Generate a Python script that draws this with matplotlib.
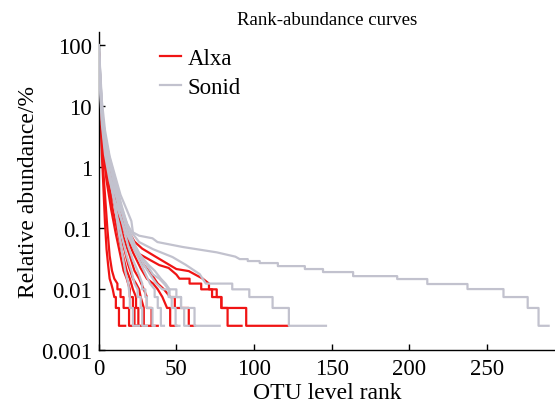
import matplotlib
matplotlib.use("Agg")
import matplotlib.pyplot as plt

# rank-abundance curves, (rank, relative abundance %) vertices
# Alxa samples
alxa_ranks = [
    [0, 1, 2, 3, 4, 5, 6, 7, 8, 9, 10, 11, 11, 13, 13, 17],
    [0, 1, 2.5, 4, 5.5, 7, 8.5, 10, 12, 12, 14, 14, 16, 16, 19.5, 19.5, 24],
    [0, 1, 2, 3, 5, 8, 11, 14, 16, 18, 20, 20, 22, 22, 23, 23, 26],
    [0, 1, 2, 4, 6, 9, 12, 15, 18, 20, 22, 24, 24, 25.5, 25.5, 29],
    [0, 1, 2, 4, 7, 10, 13, 16, 19, 22, 24, 26, 27, 29, 29, 33],
    [0, 1, 2, 4, 7, 10, 13, 16, 20, 23, 26, 29, 31, 31, 34, 34, 38],
    [0, 1, 2, 4, 7, 10, 14, 18, 22, 27, 31, 35, 38, 41, 44, 46, 46, 50],
    [0, 1, 2, 4, 7, 11, 15, 19, 24, 29, 34, 38, 42, 46, 49, 49, 58, 58, 62],
    [0, 1, 2, 4, 7, 10, 14, 18, 22, 26.2, 33, 39, 45, 50, 52, 58.5, 58.5, 66, 66,
     73, 73, 79, 79, 83, 83, 92],
    [0, 1, 2, 4, 7, 10, 14, 18, 23, 28, 37, 50, 58, 67, 71, 71, 76, 76, 79, 79,
     95, 95, 122],
]
alxa_values = [
    [80, 12, 1.6, 0.45, 0.12, 0.045, 0.025, 0.0148, 0.0123, 0.0099, 0.0074, 0.0074,
     0.0049, 0.0049, 0.0025, 0.0025],
    [60, 9, 1.2, 0.35, 0.1, 0.035, 0.02, 0.0148, 0.0123, 0.0099, 0.0099, 0.0074,
     0.0074, 0.0049, 0.0049, 0.0025, 0.0025],
    [90, 15, 4, 1.6, 0.6, 0.2, 0.08, 0.035, 0.02, 0.0148, 0.0099, 0.0074, 0.0074,
     0.0049, 0.0049, 0.0025, 0.0025],
    [70, 18, 5, 1.5, 0.6, 0.2, 0.09, 0.04, 0.02, 0.0148, 0.0099, 0.0074, 0.0049,
     0.0049, 0.0025, 0.0025],
    [85, 20, 6, 1.8, 0.6, 0.25, 0.11, 0.05, 0.025, 0.0148, 0.0123, 0.0099, 0.0074,
     0.0049, 0.0025, 0.0025],
    [60, 15, 5, 2, 0.7, 0.3, 0.13, 0.07, 0.035, 0.02, 0.0148, 0.0099, 0.0074,
     0.0049, 0.0049, 0.0025, 0.0025],
    [75, 22, 7, 2.2, 0.8, 0.35, 0.14, 0.07, 0.04, 0.022, 0.0148, 0.0123, 0.0099,
     0.0074, 0.0049, 0.0049, 0.0025, 0.0025],
    [65, 18, 6, 2, 0.8, 0.3, 0.13, 0.07, 0.04, 0.025, 0.0173, 0.0123, 0.0099,
     0.0074, 0.0074, 0.0049, 0.0049, 0.0025, 0.0025],
    [80, 25, 6, 1.5, 0.5, 0.25, 0.12, 0.07, 0.05, 0.0375, 0.03, 0.0247, 0.0222,
     0.0173, 0.0148, 0.0148, 0.0123, 0.0123, 0.0099, 0.0099, 0.0074, 0.0074,
     0.0049, 0.0049, 0.0025, 0.0025],
    [70, 20, 6, 2, 0.8, 0.4, 0.18, 0.1, 0.06, 0.046, 0.0335, 0.0213, 0.0197,
     0.0148, 0.0123, 0.0099, 0.0099, 0.0074, 0.0074, 0.0049, 0.0049, 0.0025,
     0.0025],
]

# Sonid samples
sonid_ranks = [
    [0, 1, 2, 4, 7, 10, 14, 18, 21, 22, 26, 34.6, 37.8, 54, 76, 88, 90.8, 96, 96,
     103.7, 103.7, 115.4, 115.4, 132.8, 132.8, 144.5, 144.5, 163.9, 163.9, 192.3,
     192.3, 211.7, 211.7, 237.6, 237.6, 260.8, 260.8, 276.4, 276.4, 283.4, 283.4,
     289.9],
    [0, 1, 2, 4, 7, 10, 14, 18, 22, 26, 35, 47.5, 56, 65, 69, 86, 86, 97, 97, 112,
     112, 122.5, 122.5, 146.4],
    [0, 1, 2, 4, 7, 10, 14, 18, 22, 27, 32, 36, 40, 43, 45.6, 45.6, 53, 53, 61.7,
     61.7, 77.9],
    [0, 1, 2, 4, 6, 9, 12, 15, 18, 21, 23, 25, 25, 27, 27, 28, 28, 31],
    [0, 1, 2, 4, 7, 10, 13, 16, 19, 22, 25, 28, 28, 30, 30, 31, 31, 34.6, 34.6, 36],
    [0, 1, 2, 4, 7, 10, 13, 16, 19, 22, 26, 30, 33, 36, 36, 38, 38, 40, 40, 42],
    [0, 1, 2, 4, 7, 10, 14, 18, 21, 25, 29, 33, 37, 41, 45, 45, 47, 47, 49.5, 49.5,
     52],
    [0, 1, 2, 3, 5, 8, 11, 13, 15, 17, 19, 20, 20, 22, 22, 26],
    [0, 1, 2, 4, 7, 11, 15, 19, 23, 27, 31, 35, 39, 42, 45, 50, 50, 53, 53, 55, 55,
     58],
]
sonid_values = [
    [100, 35, 12, 4, 1.5, 0.8, 0.35, 0.2, 0.13, 0.085, 0.075, 0.068, 0.059, 0.049,
     0.040, 0.034, 0.031, 0.031, 0.0288, 0.0288, 0.0267, 0.0267, 0.0238, 0.0238,
     0.0213, 0.0213, 0.019, 0.019, 0.0163, 0.0163, 0.0146, 0.0146, 0.0121, 0.0121,
     0.01, 0.01, 0.0074, 0.0074, 0.0049, 0.0049, 0.0025, 0.0025],
    [70, 20, 6, 2, 0.8, 0.4, 0.2, 0.12, 0.08, 0.059, 0.045, 0.0335, 0.025, 0.0176,
     0.0123, 0.0123, 0.0099, 0.0099, 0.0074, 0.0074, 0.0049, 0.0049, 0.0025,
     0.0025],
    [50, 15, 5, 1.6, 0.6, 0.3, 0.15, 0.08, 0.05, 0.035, 0.025, 0.02, 0.0148,
     0.0123, 0.0099, 0.0074, 0.0074, 0.0049, 0.0049, 0.0025, 0.0025],
    [100, 30, 9, 2.5, 1, 0.4, 0.15, 0.07, 0.035, 0.02, 0.0123, 0.0099, 0.0074,
     0.0074, 0.0049, 0.0049, 0.0025, 0.0025],
    [80, 25, 8, 3, 1.1, 0.5, 0.2, 0.1, 0.05, 0.03, 0.02, 0.0123, 0.0099, 0.0099,
     0.0074, 0.0074, 0.0049, 0.0049, 0.0025, 0.0025],
    [90, 28, 9, 3, 1.3, 0.6, 0.3, 0.14, 0.08, 0.05, 0.03, 0.018, 0.0123, 0.0099,
     0.0074, 0.0074, 0.0049, 0.0049, 0.0025, 0.0025],
    [75, 24, 8, 2.8, 1.2, 0.6, 0.25, 0.12, 0.07, 0.04, 0.025, 0.0173, 0.0123,
     0.0099, 0.0099, 0.0074, 0.0074, 0.0049, 0.0049, 0.0025, 0.0025],
    [95, 30, 10, 4, 1.5, 0.5, 0.18, 0.08, 0.04, 0.02, 0.0123, 0.0074, 0.0049,
     0.0049, 0.0025, 0.0025],
    [85, 26, 9, 3.2, 1.4, 0.55, 0.22, 0.1, 0.055, 0.035, 0.025, 0.0173, 0.0148,
     0.0123, 0.0099, 0.0099, 0.0074, 0.0074, 0.0049, 0.0049, 0.0025, 0.0025],
]

y_ticks = [0.001, 0.01, 0.1, 1, 10, 100]
y_ticklabels = ["0.001", "0.01", "0.1", "1", "10", "100"]
x_ticks = [0, 50, 100, 150, 200, 250]

red = "#f01414"
grey = "#c2c2ce"

plt.rcParams["font.family"] = ["Liberation Serif", "DejaVu Serif"]

fig = plt.figure(figsize=(5.55, 4.14), dpi=100)
ax = fig.add_axes([0.178, 0.152, 0.822, 0.768])

for i, (r, v) in enumerate(zip(alxa_ranks, alxa_values)):
    ax.plot(r, v, color=red, lw=1.6, label="Alxa" if i == 0 else None, zorder=2)
for i, (r, v) in enumerate(zip(sonid_ranks, sonid_values)):
    ax.plot(r, v, color=grey, lw=1.6, label="Sonid" if i == 0 else None, zorder=3)

ax.set_yscale("log")
ax.set_ylim(0.001, 163)
ax.set_xlim(0, 294)
ax.set_yticks(y_ticks)
ax.set_yticklabels(y_ticklabels)
ax.minorticks_off()
ax.set_xticks(x_ticks)

for s in ["top", "right"]:
    ax.spines[s].set_visible(False)
ax.spines["left"].set_linewidth(1.0)
ax.spines["bottom"].set_linewidth(1.0)
ax.tick_params(direction="in", length=4.5, width=1.0, labelsize=16.5)
ax.tick_params(axis="x", pad=6)
ax.tick_params(axis="y", pad=5)

ax.set_xlabel("OTU level rank", fontsize=17, labelpad=2)
ax.set_ylabel("Relative abundance/%", fontsize=17, labelpad=1)
ax.set_title("Rank-abundance curves", fontsize=13.5, pad=6)

ax.legend(loc="upper left", bbox_to_anchor=(0.1, 1.0), frameon=False,
          fontsize=16.5, handlelength=0.9, handletextpad=0.3,
          labelspacing=0.35, borderpad=0.2)

fig.savefig("out.png", dpi=100)
